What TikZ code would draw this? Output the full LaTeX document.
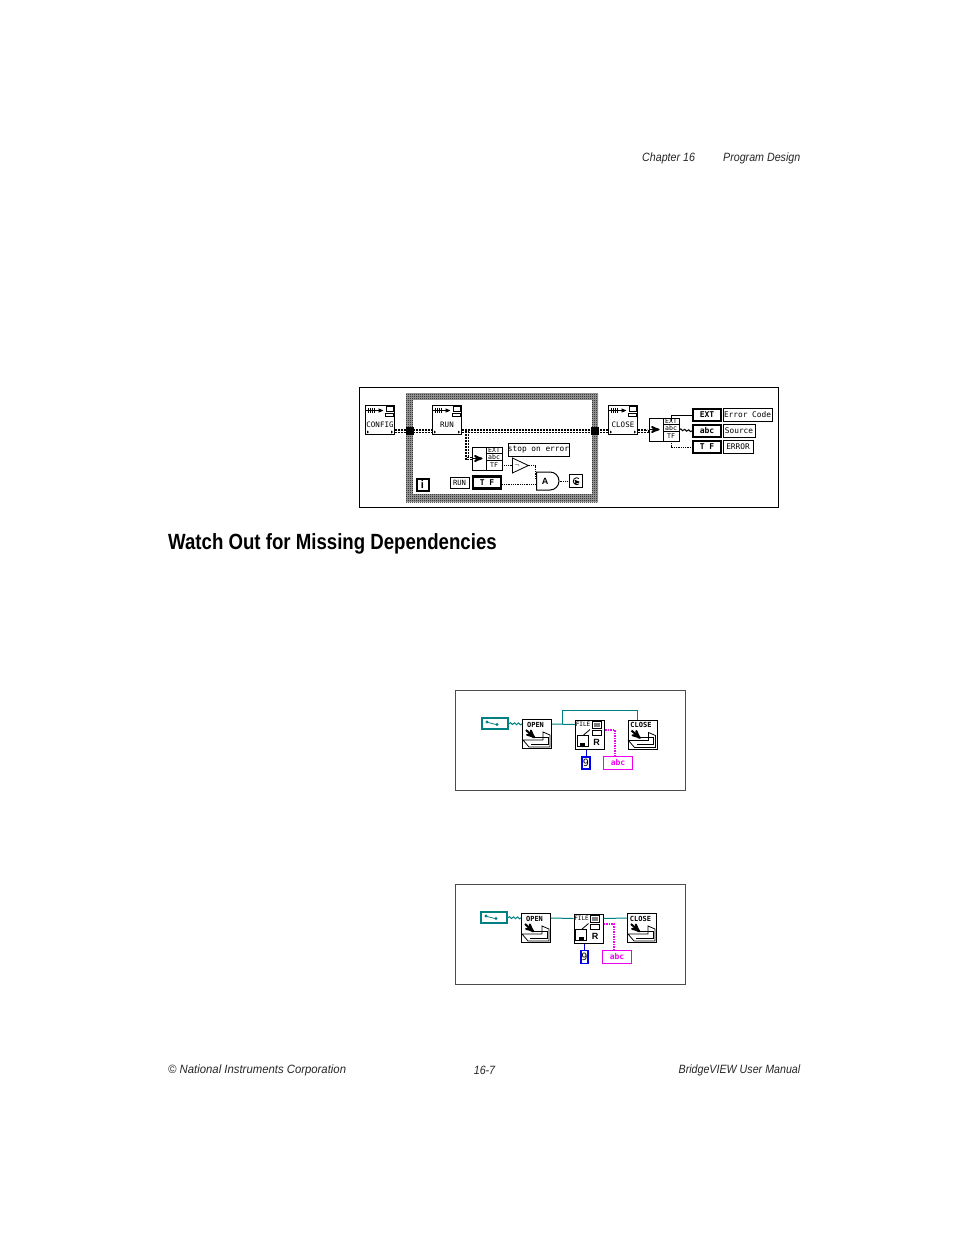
\documentclass[tikz,border=0pt]{standalone}
\usepackage{fontspec}
\setmainfont{Liberation Sans}
\newfontfamily\narrowit[FakeStretch=0.89]{Liberation Sans Italic}
\newfontfamily\corpit[FakeStretch=0.945]{Liberation Sans Italic}
\newfontfamily\headfont[FakeStretch=0.847]{Liberation Sans Bold}
\newfontfamily\pixfont{DejaVu Sans Mono}
\usetikzlibrary{arrows,positioning,patterns,shapes.geometric,shapes.gates.logic.US,decorations.pathmorphing}
\definecolor{wireteal}{RGB}{0,128,128}
\definecolor{wireblue}{RGB}{0,0,230}
\definecolor{wirepink}{RGB}{240,0,240}
\pgfdeclarepatternformonly{checker}{\pgfpointorigin}{\pgfpoint{2pt}{2pt}}{\pgfpoint{2pt}{2pt}}{
\pgfpathrectangle{\pgfpointorigin}{\pgfpoint{1pt}{1pt}}
\pgfpathrectangle{\pgfpoint{1pt}{1pt}}{\pgfpoint{1pt}{1pt}}
\pgfusepath{fill}}
\tikzstyle{every picture}+=[>=stealth']
\tikzstyle{page}=[inner sep=0,font=\narrowit\fontsize{12}{14}\selectfont,text=black!85]
\tikzstyle{vi}=[rectangle,draw=black,fill=white,line width=1pt,inner sep=0,minimum width=29,minimum height=29,font=\pixfont\fontsize{7.5}{8}\selectfont]
\tikzstyle{tag}=[rectangle,draw=black,fill=white,line width=.8pt,inner sep=0,minimum height=13.5,font=\pixfont\fontsize{7.8}{9}\selectfont]
\tikzstyle{ctrl}=[rectangle,draw=black,fill=white,line width=2pt,inner sep=0,minimum width=28,minimum height=12,font=\pixfont\bfseries\fontsize{8}{9}\selectfont]
\tikzstyle{unb}=[rectangle,draw=black,fill=white,line width=.9pt,inner sep=0,minimum width=30,minimum height=23]
\tikzstyle{errwire}=[line width=1.4pt,double=white,double distance=.8pt,dash pattern=on 2.2pt off .8pt]
\tikzstyle{boolwire}=[line width=.8pt,densely dotted]
\tikzstyle{tealwire}=[line width=1pt,wireteal]
\tikzstyle{wavy}=[line width=1pt,decorate,decoration={snake,amplitude=.9pt,segment length=4pt}]
\tikzstyle{pinkwire}=[line width=1.5pt,wirepink,densely dotted]
\tikzstyle{rowtxt}=[inner sep=0,font=\pixfont\fontsize{6.5}{7}\selectfont]
\newcommand{\lowtxt}[1]{\smash{\raisebox{-7.5pt}{#1}}}
% top of the daq icons
\newcommand{\daqglyph}[1]{
\begin{scope}[shift={(#1.north west)},line width=.7pt]
\draw (1,6) -- (12,6);
\foreach \px in {3,5,7,9} \draw (\px,3.5) -- (\px,8.5);
\draw[->] (12,6) -- (18,6);
\draw (21,2) rectangle (28,7);
\draw (20,8.5) rectangle (28,12);
\fill (2,26) -- (4,27.5) -- (2,29) -- cycle;
\fill (26,26) -- (28,27.5) -- (26,29) -- cycle;
\end{scope}}
% three rows of an unbundler
\newcommand{\rowsglyph}[1]{
\begin{scope}[shift={(#1.north west)},line width=.8pt]
\draw (15,0) -- (15,23);
\draw (15,6.5) -- (30,6.5);
\draw (15,14) -- (30,14);
\node[rowtxt] at (22.5,3.5) {EXT};
\node[rowtxt] at (22.5,10.2) {abc};
\node[rowtxt] at (22.5,18.5) {TF};
\end{scope}}
% folder and arrow of the file icons
\newcommand{\folderglyph}[2]{
\begin{scope}[shift={(#1.north west)},line width=.8pt]
\node[inner sep=0,font=\pixfont\bfseries\fontsize{7}{8}\selectfont] at (13.5,5.5) {#2};
\draw (1,21) -- (7,28) -- (28,28) -- (28,16) -- (21,13) -- (21,21) -- cycle;
\draw (12,18) -- (26,18) -- (26,25) -- (9,25);
\draw[->,line width=2pt] (4,11) -- (13,19);
\end{scope}}
\newcommand{\fileglyph}[1]{
\begin{scope}[shift={(#1.north west)},line width=.8pt]
\node[inner sep=0,font=\pixfont\fontsize{6}{7}\selectfont] at (8,5) {FILE};
\draw (17,2) rectangle (26,9);
\fill[black!50] (18.5,3.5) rectangle (24.5,7.5);
\draw (17,11) rectangle (26,16);
\draw (2,16) rectangle (13,27);
\fill (5,23) rectangle (10,27);
\draw (8,16) -- (15,10);
\node[inner sep=0,font=\bfseries\fontsize{9}{9}\selectfont] at (21.5,22.5) {R};
\end{scope}}
\newcommand{\keyglyph}[1]{
\draw[line width=.8pt,wireteal] ([xshift=-8]#1.center) ++(0,-1.5) circle (1) ++(1,0.5) -- ++(4,1) -- ++(4,1) ++(1,0) circle (1);}
\begin{document}
\begin{tikzpicture}[x=1pt,y=-1pt]
\useasboundingbox (0,0) rectangle (954,1235);
% running text
\node[page,anchor=west] (chap) at (642,158) {Chapter 16};
\node[page,anchor=east] (prog) at (800.5,158) {Program Design};
\node[inner sep=0,anchor=west,font=\headfont\fontsize{22}{24}\selectfont] (head) at (168,543.5) {Watch Out for Missing Dependencies};
\node[page,anchor=west,font=\corpit\fontsize{12}{14}\selectfont] (corp) at (168,1070) {© National Instruments Corporation};
\node[page,anchor=center] (folio) at (484.5,1070) {16-7};
\node[page,anchor=east] (manual) at (800.5,1070) {BridgeVIEW User Manual};
% first diagram
\node[rectangle,draw=black,line width=1pt,minimum width=419,minimum height=120,inner sep=0] (frameA) at (568.5,447) {};
\node[rectangle,preaction={fill=black!35},pattern=checker,minimum width=192,minimum height=109,inner sep=0,outer sep=0] (loop) at (502,447.5) {};
\node[rectangle,fill=white,minimum width=179,minimum height=94,inner sep=0,outer sep=0] (loopin) at (502.5,447) {};
\node[vi] (config) at (380,419.5) {\lowtxt{CONFIG}};
\node[vi] (run) at (447,419.5) {\lowtxt{RUN}};
\node[vi] (close) at (623,419.5) {\lowtxt{CLOSE}};
\daqglyph{config}
\daqglyph{run}
\daqglyph{close}
\coordinate (tapA) at (467,431);
\node[unb] (unbA) at (487,458.5) {};
\node[unb] (unbB) at (664,429.5) {};
\node[tag,minimum width=59] (stop) at (538.5,450) {stop on error};
\node[isosceles triangle,isosceles triangle stretches=true,draw=black,fill=white,line width=.8pt,minimum width=15,minimum height=16,inner sep=0,anchor=west] (notg) at (512,465.5) {};
\node[and gate US,draw=black,fill=white,line width=1pt,logic gate inputs=nn,minimum width=21,minimum height=14,inner sep=0] (andg) at (547,481) {};
\node[inner sep=0,font=\bfseries\fontsize{9}{9}\selectfont] (andtxt) at (545,481) {A};
\node[rectangle,draw=black,fill=white,line width=2pt,minimum size=12,inner sep=0,font=\bfseries\fontsize{11}{11}\selectfont] (iter) at (422.5,485) {i};
\node[tag,minimum width=19,minimum height=11,font=\pixfont\fontsize{7.2}{8}\selectfont] (runlbl) at (459.5,482.5) {RUN};
\node[ctrl,line width=2.2pt] (runctl) at (487,482.5) {T F};
\node[rectangle,draw=black,fill=white,line width=.8pt,minimum width=13,minimum height=13,inner sep=0] (stopic) at (576,481) {};
\node[ctrl] (extctl) at (707,415) {EXT};
\node[ctrl] (abcctl) at (707,431) {abc};
\node[ctrl] (tfctl) at (707,447) {T F};
\node[tag,minimum width=49] (errlbl) at (747.5,415) {Error Code};
\node[tag,minimum width=32] (srclbl) at (739,431) {Source};
\node[tag,minimum width=30] (bollbl) at (738,447) {ERROR};
\coordinate (unbAin) at (unbA.west);
\coordinate (unbBin) at (unbB.west);
\draw[errwire] (config.east |- tapA) -- (run.west |- tapA);
\draw[errwire] (run.east |- tapA) -- (close.west |- tapA);
\draw[errwire] (tapA) -- (tapA |- unbAin) -- (unbAin);
\draw[errwire] (close.east |- tapA) -| ([xshift=-1]unbBin);
\node[rectangle,fill=black,minimum size=8,inner sep=0] (tunA) at ([xshift=3.5]loop.west |- tapA) {};
\node[rectangle,fill=black,minimum size=8,inner sep=0] (tunB) at ([xshift=-3]loop.east |- tapA) {};
\draw[->,line width=1.8pt] (unbAin) -- ++(11,0);
\draw[->,line width=1.8pt] (unbBin) -- ++(11,0);
\rowsglyph{unbA}
\rowsglyph{unbB}
\coordinate (tfA) at ([yshift=-7]unbA.east);
\coordinate (kinkA) at (535,465.5);
\draw[boolwire] (tfA) -- (notg.west |- tfA);
\draw[boolwire] (notg.east) -- (kinkA) -- (kinkA |- andg.input 1) -- (andg.input 1);
\draw[boolwire] (runctl.east |- andg.input 2) -- (andg.input 2);
\draw[boolwire] (andg.output) -- (stopic.west);
\draw[line width=.8pt] (stopic.center) ++(3,-2.5) arc (-50:-310:3.5);
\draw[->,line width=.8pt] (stopic.center) ++(-.5,1) -- ++(4,0);
\node[inner sep=0,font=\fontsize{7}{7}\selectfont] (nottxt) at (517,465.5) {$\neg$};
\coordinate (stubE) at (671,421);
\coordinate (stubT) at (671,441);
\draw[line width=.9pt] (stubE) -- (stubE |- extctl.west) -- (extctl.west);
\draw[line width=1pt,decorate,decoration={snake,amplitude=.8pt,segment length=4pt}] (unbB.east) -- (abcctl.west);
\draw[boolwire] (stubT) -- (stubT |- tfctl.west) -- (tfctl.west);
% second diagram
\node[rectangle,draw=black!70,line width=1pt,minimum width=230,minimum height=100,inner sep=0] (frameB) at (570.5,740.5) {};
\node[rectangle,draw=wireteal,fill=white,line width=2pt,minimum width=26.5,minimum height=11,inner sep=0] (pathB) at (495,723.5) {};
\keyglyph{pathB}
\node[vi] (openB) at (537,734) {};
\node[vi] (fileB) at (590,734.5) {};
\node[vi] (shutB) at (642.5,734.5) {};
\folderglyph{openB}{OPEN}
\fileglyph{fileB}
\folderglyph{shutB}{CLOSE}
\node[rectangle,draw=wireblue,fill=white,line width=1.8pt,minimum width=7.5,minimum height=12.5,inner sep=0,font=\pixfont\fontsize{10}{10}\selectfont] (numB) at (586,763) {9};
\node[rectangle,draw=wirepink,fill=white,line width=1pt,minimum width=29,minimum height=13,inner sep=0,text=wirepink,font=\pixfont\bfseries\fontsize{8}{9}\selectfont] (strB) at (618,762.5) {abc};
\coordinate (refB) at (562,724);
\coordinate (overB) at (637,710);
\coordinate (tapB) at (615,730);
\draw[tealwire,wavy] (pathB.east) -- ([yshift=10]openB.west);
\draw[tealwire] ([yshift=10]openB.east) -- ([yshift=10]fileB.west);
\draw[tealwire] (refB) -- (refB |- overB) -- (overB) -- (overB |- shutB.north);
\draw[line width=1pt,wireblue] (fileB.south -| numB) -- (numB.north);
\draw[pinkwire] (fileB.east |- tapB) -- (tapB) -- (tapB |- strB.north);
% third diagram
\node[rectangle,draw=black!70,line width=1pt,minimum width=230,minimum height=100,inner sep=0] (frameC) at (570.5,934.5) {};
\node[rectangle,draw=wireteal,fill=white,line width=2pt,minimum width=26.5,minimum height=11,inner sep=0] (pathC) at (494,917.5) {};
\keyglyph{pathC}
\node[vi] (openC) at (536,928) {};
\node[vi] (fileC) at (588.5,928.5) {};
\node[vi] (shutC) at (642,928) {};
\folderglyph{openC}{OPEN}
\fileglyph{fileC}
\folderglyph{shutC}{CLOSE}
\node[rectangle,draw=wireblue,fill=white,line width=1.8pt,minimum width=7.5,minimum height=13,inner sep=0,font=\pixfont\fontsize{10}{10}\selectfont] (numC) at (584.5,957) {9};
\node[rectangle,draw=wirepink,fill=white,line width=1pt,minimum width=29,minimum height=13,inner sep=0,text=wirepink,font=\pixfont\bfseries\fontsize{8}{9}\selectfont] (strC) at (617,956.5) {abc};
\coordinate (tapC) at (614,924);
\draw[tealwire,wavy] (pathC.east) -- ([yshift=10]openC.west);
\draw[tealwire] ([yshift=10]openC.east) -- ([yshift=10]fileC.west);
\draw[tealwire] ([yshift=10]fileC.east) -- ([yshift=10]shutC.west);
\draw[line width=1pt,wireblue] (fileC.south -| numC) -- (numC.north);
\draw[pinkwire] (fileC.east |- tapC) -- (tapC) -- (tapC |- strC.north);
\end{tikzpicture}
\end{document}
